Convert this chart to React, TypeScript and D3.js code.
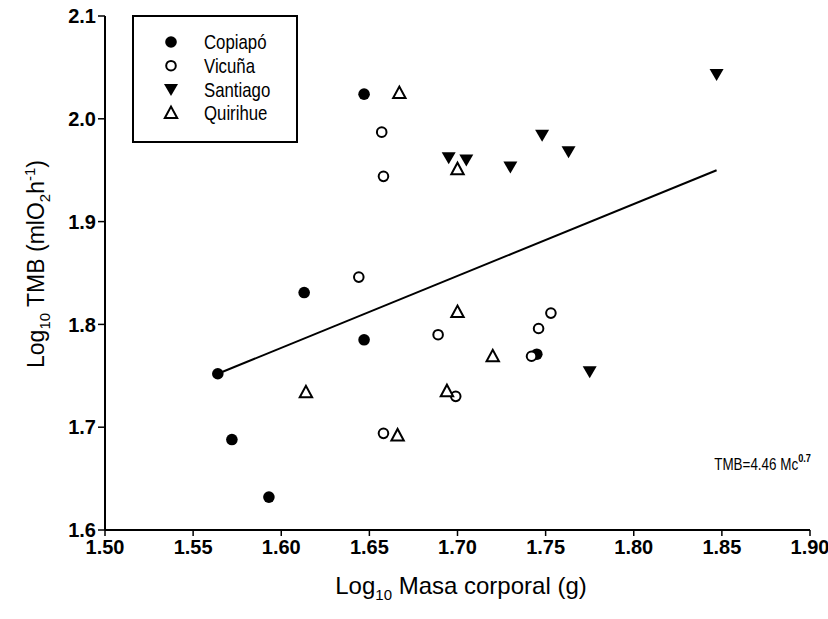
import React from "react";
import * as d3 from "d3";

const copiapoX = [1.564, 1.572, 1.593, 1.613, 1.647, 1.647, 1.745];
const copiapoY = [1.752, 1.688, 1.632, 1.831, 1.785, 2.024, 1.771];
const vicunaX = [1.644, 1.657, 1.658, 1.658, 1.689, 1.699, 1.742, 1.746, 1.753];
const vicunaY = [1.846, 1.987, 1.944, 1.694, 1.790, 1.730, 1.769, 1.796, 1.811];
const santiagoX = [1.695, 1.705, 1.730, 1.748, 1.763, 1.775, 1.847];
const santiagoY = [1.962, 1.960, 1.953, 1.984, 1.968, 1.754, 2.043];
const quirihueX = [1.667, 1.700, 1.700, 1.720, 1.614, 1.694, 1.666];
const quirihueY = [2.025, 1.951, 1.812, 1.769, 1.734, 1.735, 1.692];
const fitX = [1.564, 1.847];
const fitY = [1.752, 1.950];
const xTicks = [1.5, 1.55, 1.6, 1.65, 1.7, 1.75, 1.8, 1.85, 1.9];
const yTicks = [1.6, 1.7, 1.8, 1.9, 2.0, 2.1];
const legendNames = ["Copiapó", "Vicuña", "Santiago", "Quirihue"];

const FONT = "'Liberation Sans', Arial, sans-serif";

function Marker({ kind, x, y }: { kind: number; x: number; y: number }) {
  if (kind === 0) return <circle cx={x} cy={y} r={5.8} fill="#000" />;
  if (kind === 1) return <circle cx={x} cy={y} r={4.8} fill="#fff" stroke="#000" strokeWidth={2} />;
  if (kind === 2) {
    const s = 7;
    return <path d={`M${x - s},${y - 5.5}L${x + s},${y - 5.5}L${x},${y + 6.5}Z`} fill="#000" />;
  }
  const s = 6.2;
  return (
    <path
      d={`M${x - s},${y + 5}L${x + s},${y + 5}L${x},${y - 6.5}Z`}
      fill="#fff"
      stroke="#000"
      strokeWidth={2}
      strokeLinejoin="miter"
    />
  );
}

export default function App() {
  const x = d3.scaleLinear().domain([1.5, 1.9]).range([105, 810]);
  const y = d3.scaleLinear().domain([1.6, 2.1]).range([530, 16]);
  const series = [
    [copiapoX, copiapoY],
    [vicunaX, vicunaY],
    [santiagoX, santiagoY],
    [quirihueX, quirihueY],
  ];
  const line = d3
    .line<number>()
    .x((_, i) => x(fitX[i]))
    .y((d) => y(d));

  return (
    <svg
      width={828}
      height={619}
      style={{ position: "absolute", left: 0, top: 0, background: "#fff" }}
      fontFamily={FONT}
    >
      {/* axes */}
      <line x1={x(1.5)} x2={x(1.5)} y1={y(2.1)} y2={y(1.6)} stroke="#000" strokeWidth={2} />
      <line x1={x(1.5)} x2={x(1.9)} y1={y(1.6)} y2={y(1.6)} stroke="#000" strokeWidth={2} />
      {yTicks.map((t) => (
        <g key={"y" + t}>
          <line x1={x(1.5) - 7} x2={x(1.5)} y1={y(t)} y2={y(t)} stroke="#000" strokeWidth={1.5} />
          <text x={x(1.5) - 9} y={y(t)} dy="0.36em" textAnchor="end" fontSize={20} fontWeight="bold">
            {d3.format(".1f")(t)}
          </text>
        </g>
      ))}
      {xTicks.map((t) => (
        <g key={"x" + t}>
          <line x1={x(t)} x2={x(t)} y1={y(1.6)} y2={y(1.6) + 6} stroke="#000" strokeWidth={1.5} />
          <text x={x(t)} y={y(1.6) + 24} textAnchor="middle" fontSize={20} fontWeight="bold">
            {d3.format(".2f")(t)}
          </text>
        </g>
      ))}
      {/* axis titles */}
      <text x={461} y={594} textAnchor="middle" fontSize={24}>
        Log<tspan fontSize={15} dy={6}>10</tspan>
        <tspan dy={-6}> Masa corporal (g)</tspan>
      </text>
      <text transform="translate(44,264) rotate(-90)" textAnchor="middle" fontSize={23}>
        Log<tspan fontSize={15} dy={6}>10</tspan>
        <tspan dy={-6}> TMB (mlO</tspan>
        <tspan fontSize={15} dy={6}>2</tspan>
        <tspan dy={-6}>h</tspan>
        <tspan fontSize={15} dy={-9}>-1</tspan>
        <tspan dy={9}>)</tspan>
      </text>
      {/* regression */}
      <path d={line(fitY) || ""} fill="none" stroke="#000" strokeWidth={2} />
      {/* points */}
      {series.map(([xs, ys], k) =>
        xs.map((v, i) => <Marker key={k + "-" + i} kind={k} x={x(v)} y={y(ys[i])} />)
      )}
      {/* legend */}
      <rect x={133} y={16} width={164} height={126} fill="none" stroke="#000" strokeWidth={2} />
      {legendNames.map((n, i) => (
        <g key={n}>
          <Marker kind={i} x={171} y={42 + i * 23.7} />
          <text
            transform={`translate(204,${42 + i * 23.7}) scale(0.84,1)`}
            dy="0.36em"
            fontSize={20}
          >
            {n}
          </text>
        </g>
      ))}
      {/* annotation */}
      <text transform="translate(811,470) scale(0.84,1)" textAnchor="end" fontSize={16}>
        TMB=4.46 Mc<tspan fontSize={11} dy={-8} fontWeight="bold">0.7</tspan>
      </text>
    </svg>
  );
}
